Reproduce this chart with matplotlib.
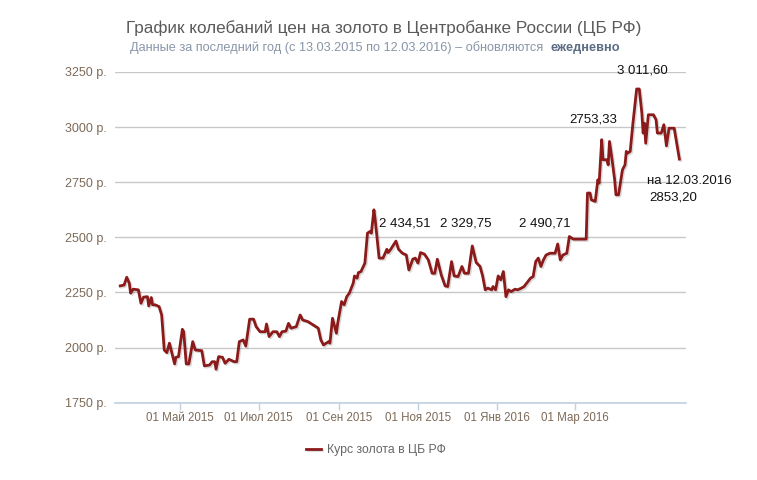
import numpy as np
import matplotlib
matplotlib.use("Agg")
import matplotlib.pyplot as plt
import matplotlib.patheffects as pe

plt.rcParams['font.family'] = ['Liberation Sans', 'DejaVu Sans']

# =========================
# данные (дни от 13.03.2015, цена в рублях)
# =========================
start = np.datetime64('2015-03-13')

days = [3, 6, 8, 10, 11, 13, 17, 19, 21, 24, 25, 27, 28, 30, 33, 35, 37, 39, 41, 43,
        45, 46, 48, 51, 52, 54, 56, 59, 61, 66, 68, 72, 74, 76, 77, 79, 82, 84, 87, 91,
        93, 95, 98, 100, 103, 106, 108, 111, 115, 116, 118, 121, 124, 126, 128, 131, 133, 135, 139, 142,
        144, 148, 152, 156, 158, 160, 164, 165, 167, 168, 170, 171, 174, 176, 178, 180, 183, 184, 186, 187,
        189, 192, 194, 196, 197, 199, 200, 203, 206, 209, 210, 212, 216, 218, 221, 224, 226, 229, 231, 233,
        235, 238, 241, 244, 246, 248, 251, 254, 256, 259, 261, 264, 267, 269, 272, 275, 278, 281, 283, 285,
        287, 290, 291, 293, 295, 297, 299, 301, 303, 305, 308, 310, 313, 315, 318, 320, 322, 324, 326, 328,
        330, 332, 335, 339, 341, 343, 345, 348, 350, 353, 363, 364, 366, 367, 370, 372, 373, 375, 376, 379,
        380, 381, 383, 385, 386, 388, 391, 393, 394, 395, 397, 399, 402, 404, 406, 407, 408, 409, 411, 415,
        417, 418, 421, 423, 425, 427, 431, 435]

price = [2280, 2284, 2319, 2292, 2247, 2265, 2262, 2201, 2229, 2231, 2189, 2227, 2194, 2194, 2186, 2148, 1989, 1977, 2020, 1974,
         1926, 1956, 1959, 2083, 2072, 1926, 1926, 2027, 1989, 1986, 1917, 1921, 1936, 1936, 1902, 1959, 1956, 1929, 1947, 1936,
         1936, 2027, 2035, 2007, 2129, 2129, 2095, 2072, 2072, 2107, 2050, 2072, 2072, 2050, 2072, 2075, 2110, 2088, 2095, 2148,
         2125, 2118, 2103, 2088, 2035, 2012, 2027, 2020, 2133, 2110, 2065, 2110, 2209, 2194, 2231, 2247, 2292, 2325, 2315, 2340,
         2345, 2383, 2519, 2527, 2519, 2625, 2579, 2406, 2406, 2446, 2431, 2446, 2483, 2446, 2428, 2420, 2352, 2401, 2406, 2383,
         2431, 2424, 2398, 2337, 2337, 2401, 2330, 2280, 2277, 2390, 2325, 2322, 2368, 2337, 2337, 2461, 2386, 2368, 2325, 2262,
         2270, 2262, 2277, 2262, 2325, 2307, 2345, 2231, 2262, 2254, 2265, 2262, 2270, 2277, 2300, 2315, 2322, 2390, 2406, 2368,
         2398, 2420, 2428, 2428, 2470, 2398, 2420, 2428, 2504, 2492, 2492, 2701, 2701, 2670, 2663, 2761, 2746, 2943, 2852, 2852,
         2829, 2935, 2852, 2761, 2693, 2693, 2806, 2829, 2890, 2882, 2890, 3011, 3173, 3173, 3064, 2973, 3018, 2927, 3056, 3056,
         3033, 2973, 2973, 3011, 2915, 2995, 2995, 2855]

tick_dates = ['2015-05-01', '2015-07-01', '2015-09-01', '2015-11-01', '2016-01-01', '2016-03-01']
tick_labels = ['01 Май 2015', '01 Июл 2015', '01 Сен 2015', '01 Ноя 2015', '01 Янв 2016', '01 Мар 2016']
y_ticks = [1750, 2000, 2250, 2500, 2750, 3000, 3250]

dates = start + np.array(days).astype('timedelta64[D]')

# =========================
# рисунок
# =========================
fig = plt.figure(figsize=(7.57, 4.80), dpi=100)
ax = fig.add_axes([0.152, 0.161, 0.754, 0.689])

line_color = '#8b1a1a'
ax.plot(dates, price, color=line_color, lw=2, label='Курс золота в ЦБ РФ',
        path_effects=[pe.SimpleLineShadow(offset=(1, -1), alpha=0.15), pe.Normal()])

ax.set_ylim(1750, 3250)
ax.set_xlim(start - np.timedelta64(1, 'D'), start + np.timedelta64(440, 'D'))

ax.set_yticks(y_ticks)
ax.set_yticklabels([f'{v} р.' for v in y_ticks])
ax.set_xticks(np.array(tick_dates, dtype='datetime64[D]'))
ax.set_xticklabels(tick_labels)

lab_color = '#7d6a58'
ax.tick_params(axis='y', length=0, pad=6, labelsize=9, labelcolor=lab_color)
ax.tick_params(axis='x', length=5, width=1, color='#c0d0e0', pad=2, labelsize=8.3, labelcolor=lab_color)

ax.grid(axis='y', color='#c8c8c8', lw=1)
ax.set_axisbelow(True)
for s in ['top', 'right', 'left']:
    ax.spines[s].set_visible(False)
ax.spines['bottom'].set_color('#c0d0e0')
ax.spines['bottom'].set_linewidth(1.2)

# подписи значений
def day(d):
    return start + np.timedelta64(d, 'D')

ann = dict(fontsize=9.5, color='#111111', va='center', ha='left', clip_on=False)
ax.text(day(387), 3258, '3 011,60', **ann)
ax.text(day(350), 3033, '2753,33', **ann)
ax.text(day(410), 2756, 'на 12.03.2016', **ann)
ax.text(day(412), 2679, '2853,20', **ann)
ax.text(day(203), 2561, '2 434,51', **ann)
ax.text(day(250), 2561, '2 329,75', **ann)
ax.text(day(311), 2561, '2 490,71', **ann)

# заголовки
fig.text(0.507, 1 - 28 / 480, 'График колебаний цен на золото в Центробанке России (ЦБ РФ)',
         ha='center', va='center', fontsize=12.3, color='#5a5a5a')
t1 = fig.text(130 / 757, 1 - 48 / 480,
              'Данные за последний год (с 13.03.2015 по 12.03.2016) – обновляются',
              ha='left', va='center', fontsize=9.2, color='#8896a8')
ax.annotate('ежедневно', xy=(1, 0.5), xycoords=t1, xytext=(5, 0), textcoords='offset points',
            ha='left', va='center', fontsize=9.2, color='#5b6c84', fontweight='bold',
            annotation_clip=False)

# легенда
fig.legend(loc='center', bbox_to_anchor=(376 / 757, 1 - 450 / 480), frameon=False,
           handlelength=1.2, handletextpad=0.5, fontsize=8.8, labelcolor='#666666')

plt.savefig('out.png', dpi=100)
